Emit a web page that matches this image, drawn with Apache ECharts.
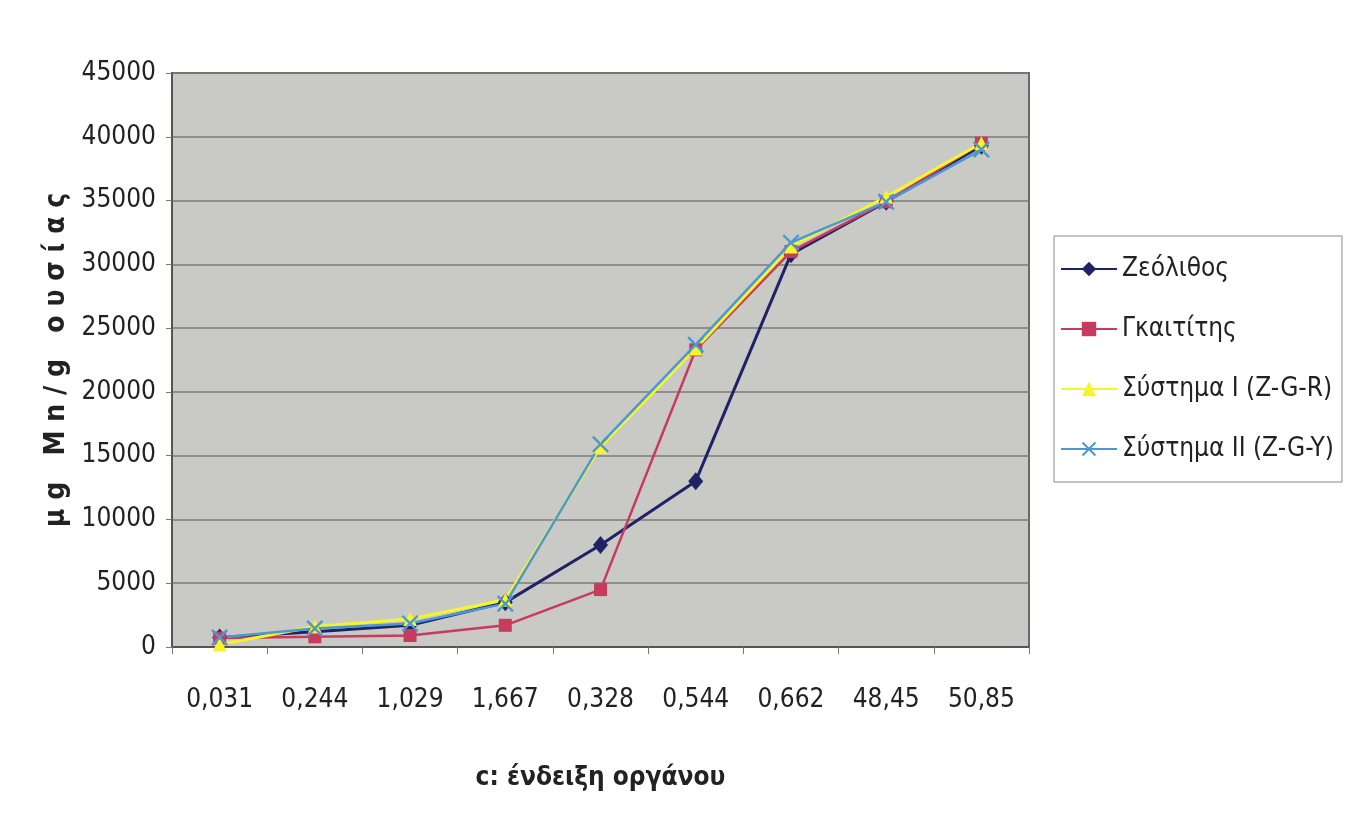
<!DOCTYPE html>
<html>
<head>
<meta charset="utf-8">
<script src="https://cdn.jsdelivr.net/npm/echarts@6/dist/echarts.min.js"></script>
<style>
  html, body { margin:0; padding:0; background:#fff; }
  #chart { width:1351px; height:827px; }
</style>
</head>
<body>
<div id="chart"></div>
<script>
// categories on x axis (instrument reading c)
var categories = ["0,031","0,244","1,029","1,667","0,328","0,544","0,662","48,45","50,85"];
// μg Mn/g values
var zeolithos = [750, 1200, 1700, 3500, 8000, 13000, 30800, 34900, 39300];
var gkaititis = [700, 800, 900, 1700, 4500, 23300, 31000, 34900, 39500];
var systimaI  = [200, 1600, 2200, 3700, 15700, 23400, 31400, 35300, 39500];
var systimaII = [750, 1450, 1850, 3400, 15900, 23700, 31700, 34900, 39000];
var seriesNames = ["Ζεόλιθος","Γκαιτίτης","Σύστημα Ι (Z-G-R)","Σύστημα ΙΙ (Z-G-Y)"];

var font = "'Liberation Sans Narrow', 'DejaVu Sans Condensed', 'Liberation Sans', sans-serif";
var xMark = "path://M0,1L1,0L5,4L9,0L10,1L6,5L10,9L9,10L5,6L1,10L0,9L4,5Z";

var chart = echarts.init(document.getElementById("chart"));
chart.setOption({
  animation:false,
  backgroundColor:"#fff",
  grid:{
    left:172, top:73, right:322, bottom:180,
    show:true, backgroundColor:"#c9c9c5", borderColor:"#6a6a6a", borderWidth:2
  },
  legend:{
    orient:"vertical",
    left:1054, top:236,
    padding:[20,8,20,6],
    itemGap:34,
    itemWidth:56, itemHeight:18,
    backgroundColor:"#fff",
    borderColor:"#8a8a8a", borderWidth:1,
    textStyle:{fontFamily:font, fontSize:26, color:"#222"},
    data:seriesNames
  },
  xAxis:{
    type:"category",
    data:categories,
    boundaryGap:true,
    axisLine:{lineStyle:{color:"#555", width:2}},
    axisTick:{show:true, length:7, inside:false, lineStyle:{color:"#777"}},
    axisLabel:{fontFamily:font, fontSize:26, color:"#222", margin:40},
    name:"c: ένδειξη οργάνου",
    nameLocation:"middle",
    nameGap:118,
    nameTextStyle:{fontFamily:font, fontSize:26, fontWeight:"bold", color:"#222"}
  },
  yAxis:{
    type:"value",
    min:0, max:45000, interval:5000,
    axisLine:{show:true, lineStyle:{color:"#555", width:2}},
    axisTick:{show:true, length:6, lineStyle:{color:"#777"}},
    axisLabel:{fontFamily:font, fontSize:26, color:"#222", margin:16,
      formatter:function(v){ return String(v); }},
    splitLine:{lineStyle:{color:"#7a7a7a", width:1.5}},
    name:"μ g   M n / g   ο υ σ ί α ς",
    nameLocation:"middle",
    nameGap:80,
    nameTextStyle:{fontFamily:font, fontSize:28, fontWeight:"bold", color:"#222"}
  },
  series:[
    {name:seriesNames[0], type:"line", data:zeolithos, symbol:"diamond", symbolSize:[15,18],
     lineStyle:{color:"#1f2366", width:3}, itemStyle:{color:"#1f2366"}},
    {name:seriesNames[1], type:"line", data:gkaititis, symbol:"rect", symbolSize:13,
     lineStyle:{color:"#c83a5e", width:2.5}, itemStyle:{color:"#c83a5e"}},
    {name:seriesNames[2], type:"line", data:systimaI, symbol:"triangle", symbolSize:14,
     lineStyle:{color:"#f5f52a", width:3}, itemStyle:{color:"#f5f52a"}},
    {name:seriesNames[3], type:"line", data:systimaII, symbol:xMark, symbolSize:17,
     lineStyle:{color:"#4a98d4", width:2.5}, itemStyle:{color:"#4a98d4"}}
  ]
});
</script>
</body>
</html>
